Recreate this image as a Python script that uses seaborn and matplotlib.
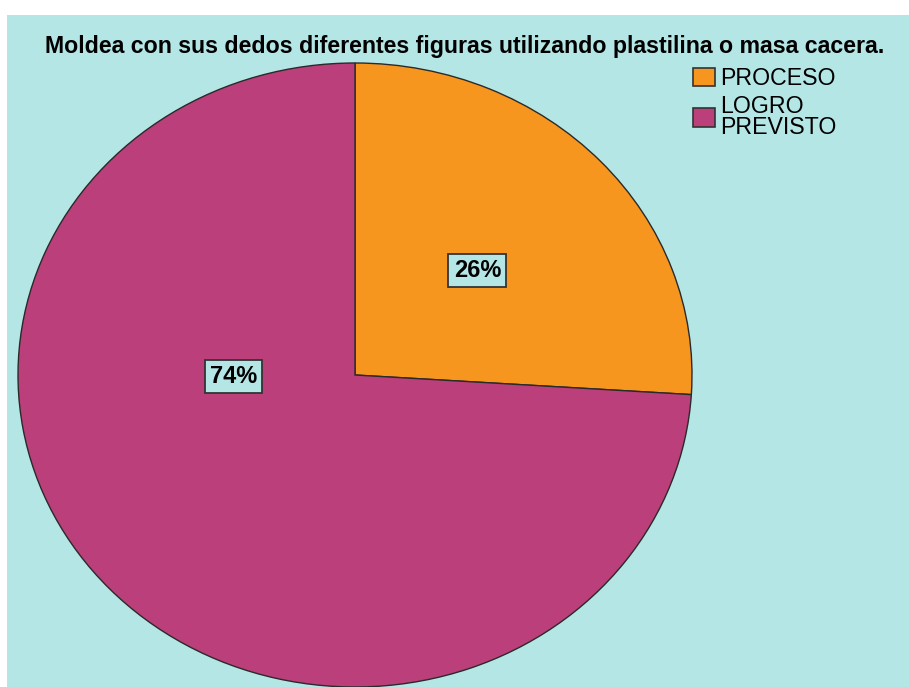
import matplotlib
matplotlib.use("Agg")
import matplotlib.pyplot as plt
from matplotlib.patches import Rectangle, Patch
import seaborn as sns

# data
categories = ["PROCESO", "LOGRO\nPREVISTO"]
percentages = [26, 74]
slice_colors = ["#F7961E", "#BA3F7A"]
title = "Moldea con sus dedos diferentes figuras utilizando plastilina o masa cacera."

sns.set_style("white")
plt.rcParams["font.family"] = ["Liberation Sans", "DejaVu Sans"]
plt.rcParams["text.color"] = "black"

bg = "#B4E6E6"
W, H = 909, 687
fig = plt.figure(figsize=(W / 100, H / 100), dpi=100)
fig.patch.set_facecolor("white")
fig.patches.append(Rectangle((7 / W, 0), 1 - 7 / W, 1 - 15 / H,
                             transform=fig.transFigure, facecolor=bg,
                             edgecolor="none", zorder=-5))

# pie axes (elliptical pie like the SPSS output)
ax = fig.add_axes([18 / W, 0, 674 / W, 624 / H])
ax.set_facecolor("none")
wedges, texts, autotexts = ax.pie(
    percentages, colors=slice_colors, startangle=90, counterclock=False,
    autopct="%d%%", pctdistance=0.49,
    wedgeprops=dict(edgecolor="#2a2a2a", linewidth=1.0))
ax.set_aspect("auto")
ax.set_xlim(-1.0, 1.0)
ax.set_ylim(-1.0, 1.0)
ax.axis("off")

# SPSS places the big slice label near the horizontal middle
autotexts[0].set_position((0.363, 0.335))
autotexts[1].set_position((-0.36, -0.005))
for t in autotexts:
    t.set_fontsize(17)
    t.set_fontweight("bold")
    t.set_color("black")
    t.set_bbox(dict(boxstyle="square,pad=0.22", facecolor=bg,
                    edgecolor="#333333", linewidth=1.3))

fig.text(465 / W, 1 - 46 / H, title, ha="center", va="center",
         fontsize=16.7, fontweight="bold")

handles = [Patch(facecolor=c, edgecolor="#333333", linewidth=1.2) for c in slice_colors]
leg = fig.legend(handles, categories, loc="upper left",
                 bbox_to_anchor=(693 / W, 1 - 67 / H), frameon=False,
                 fontsize=16.7, handlelength=0.95, handleheight=0.85,
                 handletextpad=0.2, labelspacing=0.2, borderaxespad=0,
                 borderpad=0)
for t in leg.get_texts():
    t.set_linespacing(0.9)

fig.savefig("out.png", dpi=100)
